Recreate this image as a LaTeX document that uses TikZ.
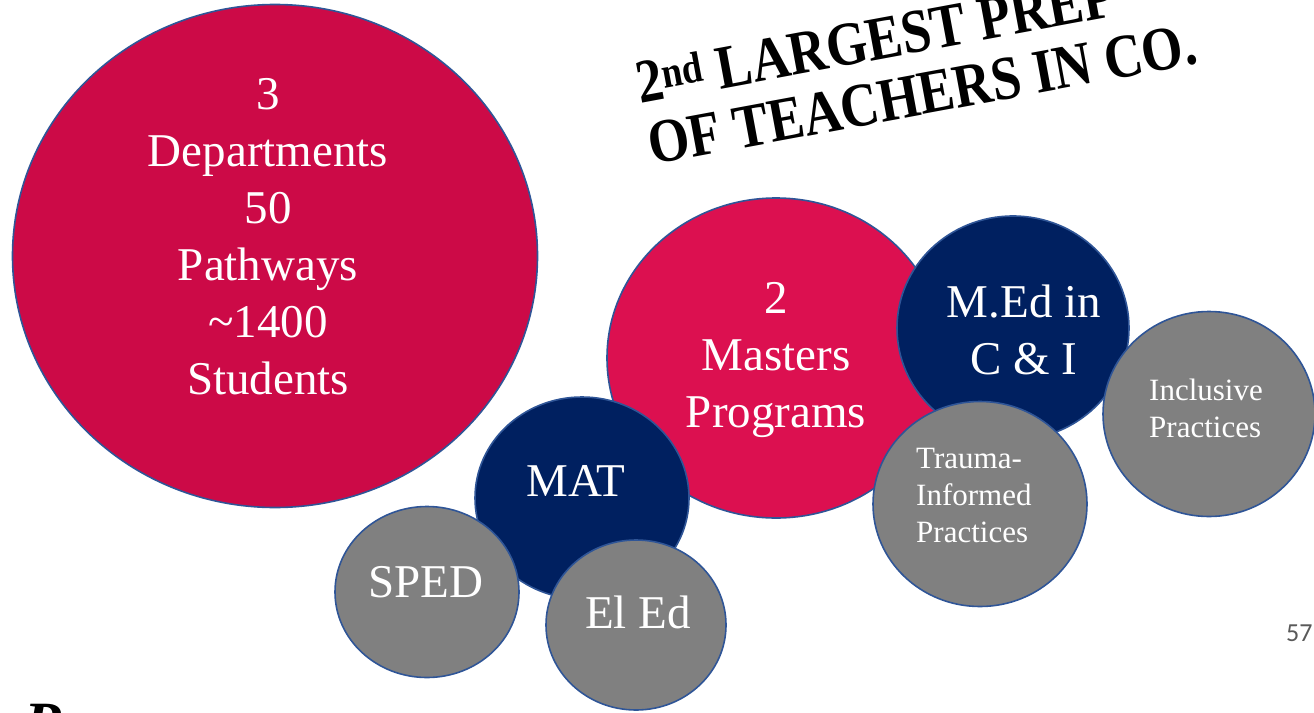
\documentclass[tikz,border=0pt]{standalone}
\usepackage{fontspec}
\setmainfont{Liberation Serif}
\newfontfamily\pagefont{Carlito}
\usetikzlibrary{shapes.geometric}

\definecolor{deepred}{HTML}{CC0A47}
\definecolor{brightred}{HTML}{DC1050}
\definecolor{navy}{HTML}{002060}
\definecolor{stone}{HTML}{808080}
\definecolor{rim}{HTML}{2F5597}
\definecolor{pagegray}{HTML}{595959}

\begin{document}
\begin{tikzpicture}[
    x=1pt, y=-1pt,
    bubble/.style={ellipse,draw=rim,line width=1.6pt,inner sep=0pt},
    bigtext/.style={text=white,align=center,inner sep=0pt,font=\fontsize{47}{57}\selectfont},
    smalltext/.style={text=white,align=left,inner sep=0pt,anchor=west,font=\fontsize{31}{37}\selectfont},
    headline/.style={anchor=base west,inner sep=0pt,rotate=10.5,font=\fontsize{53}{60}\selectfont\bfseries}
]
\useasboundingbox (0,0) rectangle (1314,712);

% Bubbles, back to front
\node[bubble,fill=deepred,minimum width=525pt,minimum height=503pt] (depts) at (275,256) {};
\node[bubble,fill=brightred,minimum width=338pt,minimum height=320pt] (masters) at (776,358) {};
\node[bubble,fill=navy,minimum width=214pt,minimum height=202pt] (mat) at (582,498) {};
\node[bubble,fill=stone,minimum width=184pt,minimum height=171pt] (sped) at (427,592) {};
\node[bubble,fill=stone,minimum width=180pt,minimum height=170pt] (eled) at (636,625) {};
\node[bubble,fill=navy,minimum width=232pt,minimum height=224pt] (med) at (1013,328) {};
\node[bubble,fill=stone,minimum width=214pt,minimum height=205pt] (trauma) at (980,504) {};
\node[bubble,fill=stone,minimum width=212pt,minimum height=205pt] (inclusive) at (1209,414) {};

% Bubble texts
\node[bigtext] (deptstext) at (268,237) {3\\Departments\\50\\Pathways\\\char`\~1400\\Students};
\node[bigtext] (masterstext) at (776,360) {2\\Masters\\Programs};
\node[bigtext] (mattext) at (576,481) {MAT};
\node[bigtext] (spedtext) at (426,582) {SPED};
\node[bigtext] (eledtext) at (638,612) {El Ed};
\node[bigtext] (medtext) at (1024,330) {M.Ed in\\C \& I};
\node[smalltext] (traumatext) at (916,495) {Trauma-\\Informed\\Practices};
\node[smalltext] (inclusivetext) at (1149,408) {Inclusive\\Practices};

% Headline
\node[headline] (title1) at (640,104) {\scalebox{1}[1.17]{2\textsuperscript{nd} LARGEST PREP}};
\node[headline] (title2) at (652,165) {\scalebox{1}[1.17]{OF TEACHERS IN CO.}};

% Page number and cut-off letter
\node[anchor=base west,inner sep=0pt,text=pagegray,font=\pagefont\fontsize{26}{26}\selectfont] (pagenum) at (1286,641) {57};
\node[anchor=north west,inner sep=0pt,font=\fontsize{60}{60}\selectfont\bfseries\itshape] (cutoff) at (24,704) {P};

\end{tikzpicture}
\end{document}
